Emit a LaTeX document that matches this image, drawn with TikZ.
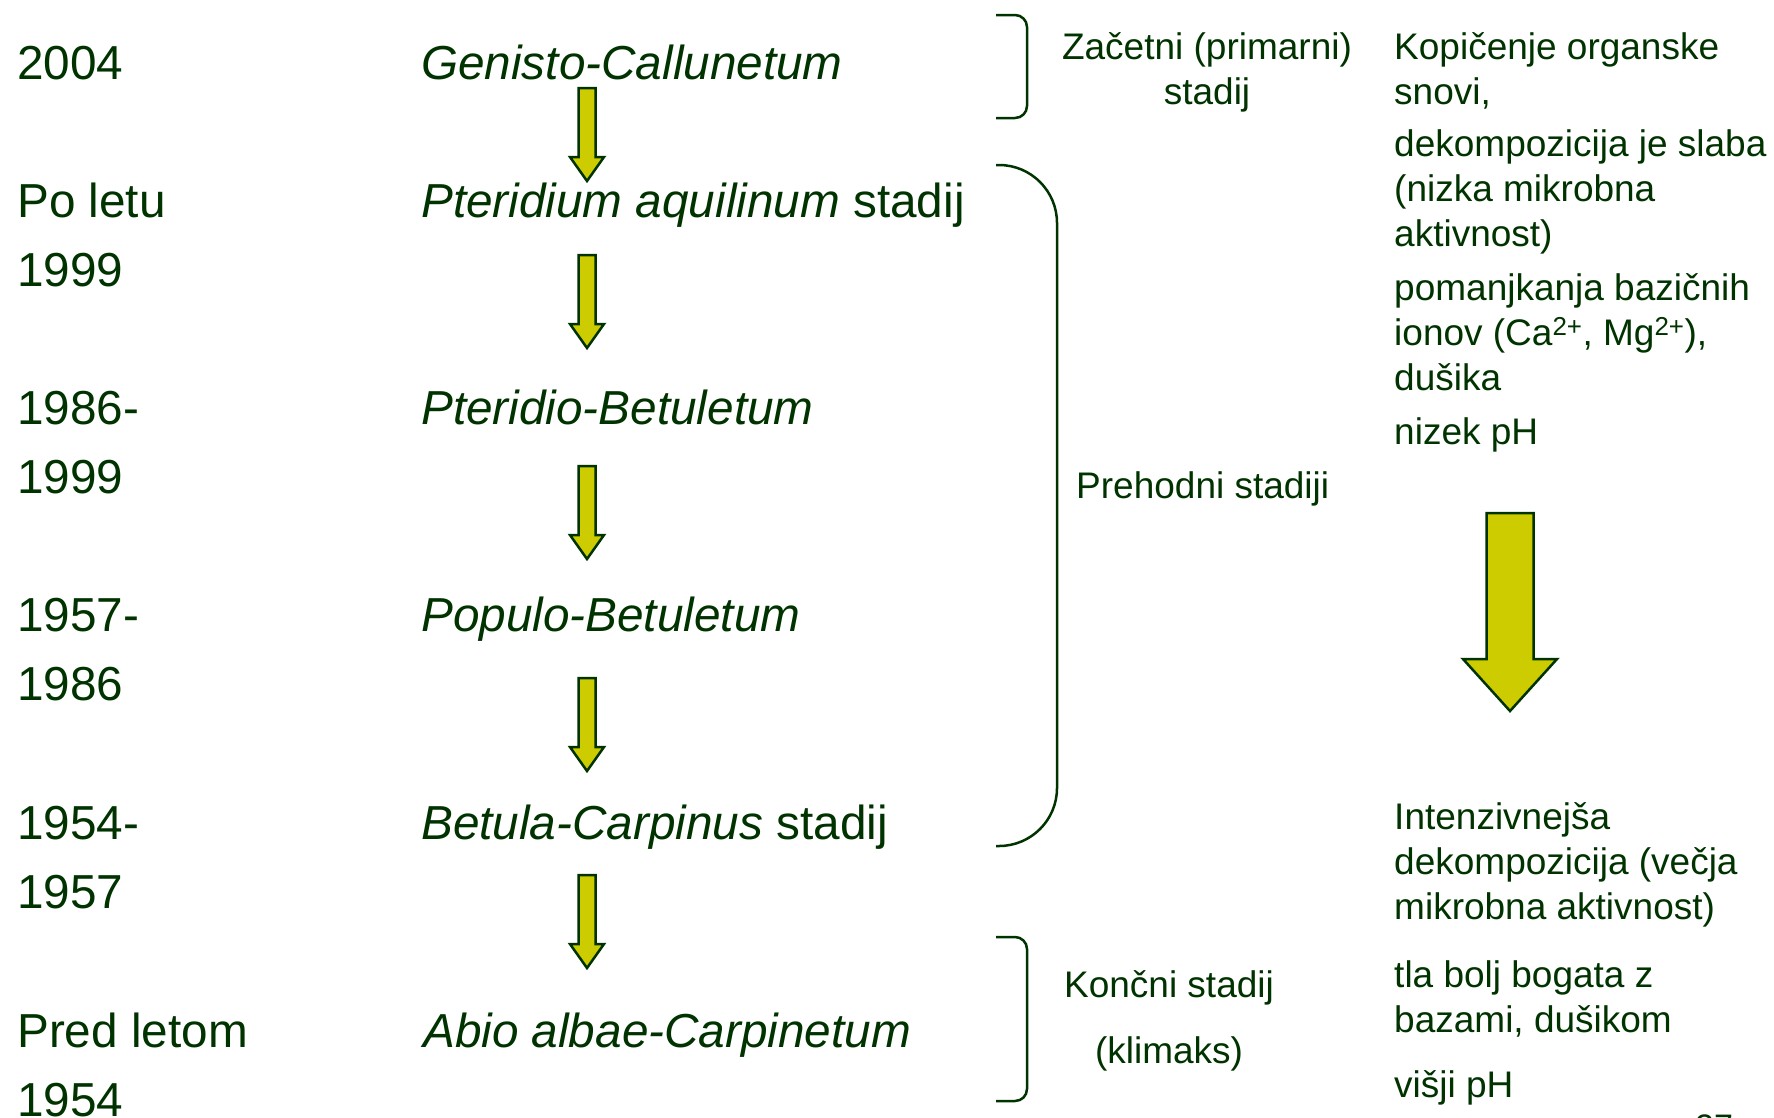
\documentclass[tikz,border=0pt]{standalone}
\usepackage{fontspec}
\setmainfont{Liberation Sans}
\definecolor{dkgreen}{RGB}{0,51,0}
\definecolor{arrowyellow}{RGB}{204,204,0}
\begin{document}
\begin{tikzpicture}[x=1pt,y=-1pt,
  txt/.style={text=dkgreen, inner sep=0pt, anchor=base west, align=left},
  bigtxt/.style={txt, font=\fontsize{47.7}{69}\selectfont},
  smalltxt/.style={txt, font=\fontsize{37}{45}\selectfont},
  labeltxt/.style={txt, font=\fontsize{37}{45}\selectfont},
  blockarrow/.style={fill=arrowyellow, draw=dkgreen, line width=2.5pt, line join=miter},
  bracket/.style={draw=dkgreen, line width=2.5pt},
  smallarrow/.pic={\path[blockarrow] (-8.5,0) -- (8.5,0) -- (8.5,69) -- (17,69) -- (0,93) -- (-17,69) -- (-8.5,69) -- cycle;},
  bigarrow/.pic={\path[blockarrow] (-23.5,0) -- (23.5,0) -- (23.5,146) -- (47,146) -- (0,198) -- (-47,146) -- (-23.5,146) -- cycle;}
]
\useasboundingbox (0,0) rectangle (1774,1117);
\clip (0,0) rectangle (1774,1117);
\fill[white] (0,0) rectangle (1774,1117);

% left column: years (anchor = baseline of the last line)
\node[bigtxt] (y2004) at (17,79) {2004};
\node[bigtxt] (y1999) at (17,286) {Po letu\\1999};
\node[bigtxt] (y1986) at (17,493) {1986-\\1999};
\node[bigtxt] (y1957) at (17,700) {1957-\\1986};
\node[bigtxt] (y1954) at (17,908) {1954-\\1957};
\node[bigtxt] (ypred) at (17,1116) {Pred letom\\1954};

% middle column: stages
\node[bigtxt] (genisto) at (421,79) {\itshape Genisto-Callunetum};
\node[bigtxt] (pteridium) at (421,217) {\textit{Pteridium aquilinum} stadij};
\node[bigtxt] (pteridio) at (421,424) {\itshape Pteridio-Betuletum};
\node[bigtxt] (populo) at (421,631) {\itshape Populo-Betuletum};
\node[bigtxt] (betula) at (421,839) {\textit{Betula-Carpinus} stadij};
\node[bigtxt] (abio) at (423,1047) {\itshape Abio albae-Carpinetum};

% small arrows
\pic at (587,88) {smallarrow};
\pic at (587,255) {smallarrow};
\pic at (587,466) {smallarrow};
\pic at (587,678) {smallarrow};
\pic at (587,875) {smallarrow};

% brackets
\draw[bracket, rounded corners=12pt] (996,15) -- (1027,15) -- (1027,118) -- (996,118);
\draw[bracket, rounded corners=58pt] (996,165) -- (1057,165) -- (1057,846) -- (996,846);
\draw[bracket, rounded corners=12pt] (996,937) -- (1027,937) -- (1027,1101) -- (996,1101);

% bracket labels
\node[labeltxt, anchor=base, align=center] (zacetni) at (1207,104) {Začetni (primarni)\\stadij};
\node[labeltxt] (prehodni) at (1076,498) {Prehodni stadiji};
\node[labeltxt, anchor=base, align=center, font=\fontsize{37}{66}\selectfont] (koncni) at (1169,1063) {Končni stadij\\(klimaks)};

% right column
\node[smalltxt] (p1) at (1394,104) {Kopičenje organske\\snovi,};
\node[smalltxt] (p2) at (1394,246) {dekompozicija je slaba\\(nizka mikrobna\\aktivnost)};
\node[smalltxt] (p3) at (1394,390) {pomanjkanja bazičnih\\ionov (Ca\textsuperscript{2+}, Mg\textsuperscript{2+}),\\dušika};
\node[smalltxt] (p4) at (1394,444) {nizek pH};
\pic at (1510,513) {bigarrow};
\node[smalltxt] (p5) at (1394,919) {Intenzivnejša\\dekompozicija (večja\\mikrobna aktivnost)};
\node[smalltxt] (p6) at (1394,1032) {tla bolj bogata z\\bazami, dušikom};
\node[smalltxt] (p7) at (1394,1097) {višji pH};

% page number (cut off)
\node[txt, font=\fontsize{34}{40}\selectfont] (pagenum) at (1695,1138) {27};
\end{tikzpicture}
\end{document}
